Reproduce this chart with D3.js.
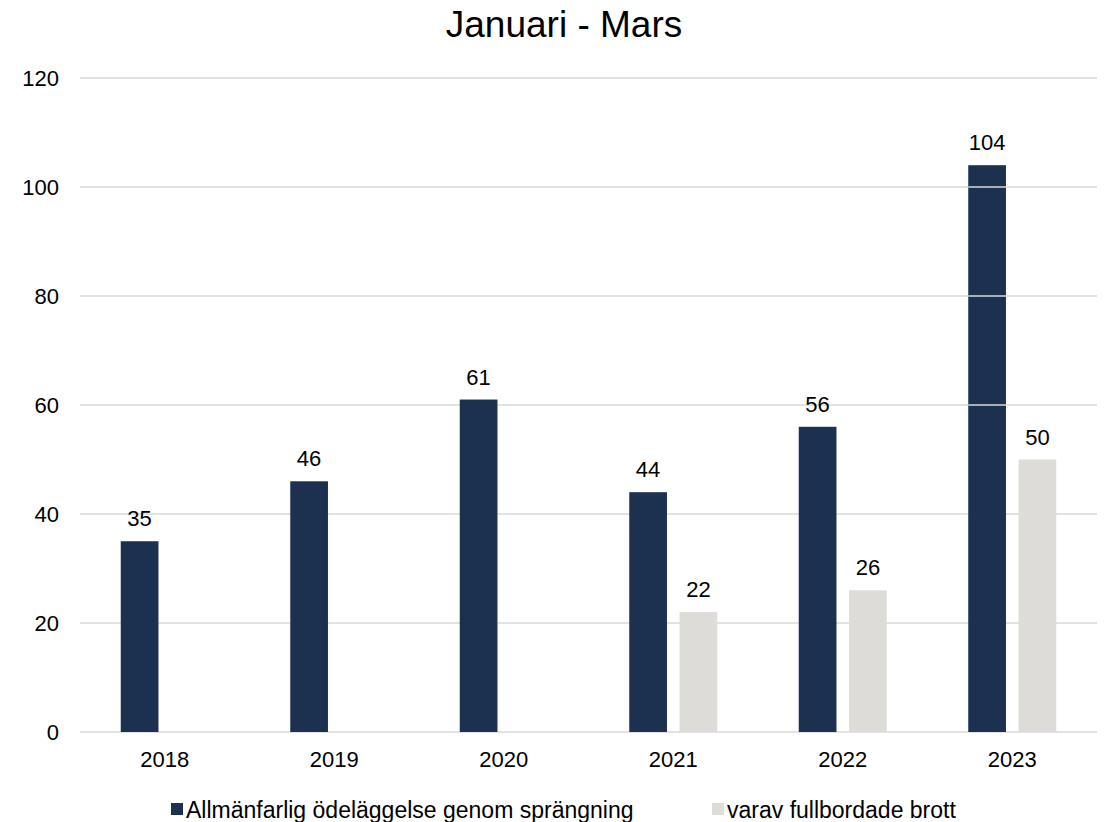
<!DOCTYPE html>
<html><head><meta charset="utf-8">
<script src="https://cdn.jsdelivr.net/npm/d3@7"></script>
<style>body{margin:0;background:#fff}svg{display:block}text{font-family:"Liberation Sans",Arial,sans-serif}</style>
</head><body>
<svg id="c" width="1107" height="822"></svg>
<script>
const years = ["2018","2019","2020","2021","2022","2023"];
const totalValues = [35,46,61,44,56,104];
const completedValues = [null,null,null,22,26,50];
const seriesNames = ["Allmänfarlig ödeläggelse genom sprängning","varav fullbordade brott"];
const seriesColors = ["#1c3050","#dddcd8"];
const yTicks = [0,20,40,60,80,100,120];
const title = "Januari - Mars";

const svg = d3.select("#c");
const W=1107,H=822;
const m={l:80,r:10,t:78,b:90};
const x0 = d3.scaleBand().domain(years).range([m.l,W-m.r]).paddingInner(0).paddingOuter(0);
const x1 = d3.scaleBand().domain([0,1]).range([x0.bandwidth()/2-44, x0.bandwidth()/2+44]).paddingInner(0.25).paddingOuter(0);
const y = d3.scaleLinear().domain([0,120]).range([732,78]);

svg.append("text").attr("x",564).attr("y",37).attr("text-anchor","middle").attr("font-size",37).attr("fill","#000").text(title);

const grid = svg.append("g");
grid.selectAll("line").data(yTicks).join("line")
  .attr("x1",m.l).attr("x2",W-m.r).attr("y1",d=>y(d)).attr("y2",d=>y(d))
  .attr("stroke","#d9d9d9").attr("stroke-width",1.5);

const yAxis = d3.axisLeft(y).tickValues(yTicks).tickSize(0).tickPadding(0);
const ya = svg.append("g").attr("transform",`translate(59,0)`).call(yAxis);
ya.select(".domain").remove();
ya.selectAll("text").attr("font-size",22).attr("fill","#000").attr("font-family","Liberation Sans, Arial, sans-serif");

const xAxis = d3.axisBottom(x0).tickSize(0).tickPadding(0);
const xa = svg.append("g").attr("transform",`translate(0,767)`).call(xAxis);
xa.select(".domain").remove();
xa.selectAll("text").attr("font-size",22).attr("fill","#000").attr("y",0).attr("dy",0).attr("font-family","Liberation Sans, Arial, sans-serif");

const data = years.map((yr,i)=>({yr, vals:[totalValues[i],completedValues[i]]}));
const g = svg.append("g");
data.forEach(d=>{
  d.vals.forEach((v,k)=>{
    if(v==null) return;
    const bx = x0(d.yr)+x1(k);
    g.append("rect").attr("x",bx).attr("width",x1.bandwidth()).attr("y",y(v)).attr("height",y(0)-y(v)).attr("fill",seriesColors[k]);
    g.append("text").attr("x",bx+x1.bandwidth()/2).attr("y",y(v)-15).attr("text-anchor","middle").attr("font-size",22).attr("fill","#000").text(v);
  });
});

// gridlines visible across the upper part of the tallest bar, as in the reference
const lastIdx = years.length-1;
const bx = x0(years[lastIdx])+x1(0);
svg.append("g").selectAll("line").data(yTicks.filter(t=>t>completedValues[lastIdx] && t<totalValues[lastIdx])).join("line")
  .attr("x1",bx).attr("x2",bx+x1.bandwidth()).attr("y1",d=>y(d)).attr("y2",d=>y(d))
  .attr("stroke","#d9d9d9").attr("stroke-width",1.5);

const leg = svg.append("g");
const legX=[171,712];
seriesNames.forEach((n,k)=>{
  leg.append("rect").attr("x",legX[k]).attr("y",803).attr("width",12).attr("height",12).attr("fill",seriesColors[k]);
  leg.append("text").attr("x",legX[k]+15).attr("y",818).attr("font-size",23).attr("fill","#000").text(n);
});
</script>
</body></html>
